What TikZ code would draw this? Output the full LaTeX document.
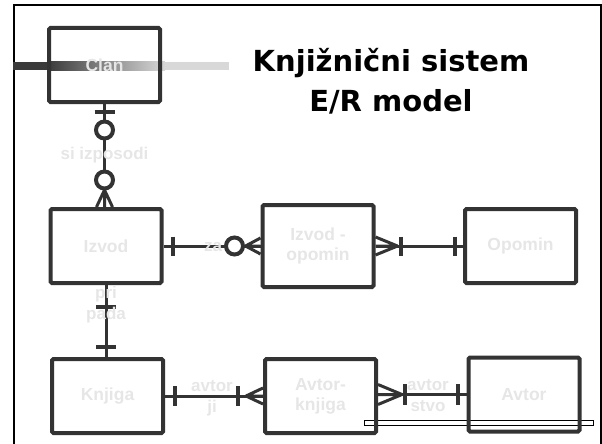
\documentclass[tikz,border=0pt]{standalone}
\usepackage{fontspec}
\setmainfont{Liberation Sans}
\newfontfamily\titlefont{DejaVu Sans}
\usetikzlibrary{calc}
\definecolor{dk}{HTML}{333333}
\definecolor{lt}{HTML}{E6E6E6}
\definecolor{barl}{HTML}{D8D8D8}
\definecolor{bard}{HTML}{3A3A3A}
\begin{document}
\begin{tikzpicture}[x=1pt,y=-1pt,
  ent/.style={draw=dk, line width=4pt, rounded corners=1.5pt, minimum width=111pt,
    minimum height=74pt, inner sep=0pt, font=\fontsize{17.5}{20}\selectfont\bfseries,
    text=lt, align=center},
  conn/.style={draw=dk, line width=3pt},
  bar/.style={draw=dk, line width=4pt},
  ring/.style={draw=dk, line width=4pt, fill=white},
  foot/.style={draw=dk, line width=3pt},
  lbl/.style={font=\fontsize{17}{21}\selectfont\bfseries, text=lt, align=center, inner sep=0pt},
  frame/.style={draw=black, line width=2pt}
]
\useasboundingbox (0,0) rectangle (602,444);
% slide frame
\draw[frame] (13.5,444) -- (13.5,5.5) -- (600.5,5.5) -- (600.5,444);
% decorative bar behind Clan
\fill[bard] (13,62) rectangle (47,70);
\shade[left color=bard, right color=barl] (47,62) rectangle (165,70);
\fill[barl] (165,62) rectangle (229,70);
% thin rectangle near the bottom
\draw[black, line width=0.8pt, fill=white] (364,420) rectangle (593,425);

% title
\node[font=\titlefont\bfseries\fontsize{29}{40}\selectfont, align=center, inner sep=0pt, anchor=north]
  (title) at (391,48) {Knjižnični sistem\\E/R model};

% entities
\node[ent] (clan) at (104.5,65) {Clan};
\node[ent] (izvod) at (106,246) {Izvod};
\node[ent, minimum height=82pt] (io) at (318,246) {Izvod -\\opomin};
\node[ent] (opomin) at (520.5,246) {Opomin};
\node[ent] (knjiga) at (107.5,396) {Knjiga};
\node[ent] (ak) at (320.5,396) {Avtor-\\knjiga};
\node[ent] (avtor) at (524,394.5) {Avtor};

% Clan -- Izvod (si izposodi)
\draw[conn] (clan.south) -- (clan.south |- izvod.north);
\draw[bar] ($(clan.south)+(-10,8)$) -- ($(clan.south)+(10,8)$);
\draw[ring] ($(clan.south)+(0,26)$) circle[radius=8.5];
\coordinate (f1) at ($(clan.south |- izvod.north)+(0,-17)$);
\draw[foot] (f1) -- ++(-8,17) (f1) -- ++(0,17) (f1) -- ++(8,17);
\draw[ring] ($(clan.south |- izvod.north)+(0,-27)$) circle[radius=8.5];
\node[lbl] (l1) at ($(clan.south)!0.5!(clan.south |- izvod.north)$) {si izposodi};

% Izvod -- Izvod-opomin (za)
\draw[conn] (izvod.east) -- (io.west);
\draw[bar] ($(izvod.east)+(9,-9.5)$) -- ($(izvod.east)+(9,9.5)$);
\coordinate (f2) at ($(io.west)+(-15,0)$);
\draw[foot] (f2) -- ++(15,-8) (f2) -- ++(15,0) (f2) -- ++(15,8);
\draw[ring] ($(io.west)+(-26,0)$) circle[radius=8.5];
\node[lbl] (l2) at (213,247) {za};

% Izvod-opomin -- Opomin
\draw[conn] (io.east) -- (opomin.west);
\coordinate (f3) at ($(io.east)+(22,0)$);
\draw[foot] (f3) -- ++(-22,-9) (f3) -- ++(-22,0) (f3) -- ++(-22,9);
\draw[bar] ($(io.east)+(25,-9.5)$) -- ($(io.east)+(25,9.5)$);
\draw[bar] ($(opomin.west)+(-8,-9.5)$) -- ($(opomin.west)+(-8,9.5)$);

% Izvod -- Knjiga (pripada)
\draw[conn] (izvod.south) -- (izvod.south |- knjiga.north);
\draw[bar] ($(izvod.south)+(-10,22)$) -- ($(izvod.south)+(10,22)$);
\draw[bar] ($(izvod.south |- knjiga.north)+(-10,-10)$) -- ($(izvod.south |- knjiga.north)+(10,-10)$);
\node[lbl] (l4) at (106,305) {pri\\pada};

% Knjiga -- Avtor-knjiga (avtorji)
\draw[conn] (knjiga.east) -- (ak.west);
\draw[bar] ($(knjiga.east)+(10,-10)$) -- ($(knjiga.east)+(10,10)$);
\draw[bar] ($(ak.west)+(-25,-10)$) -- ($(ak.west)+(-25,10)$);
\coordinate (f5) at ($(ak.west)+(-17,0)$);
\draw[foot] (f5) -- ++(17,-8) (f5) -- ++(17,0) (f5) -- ++(17,8);
\node[lbl] (l5) at (212,398) {avtor\\ji};

% Avtor-knjiga -- Avtor (avtorstvo)
\draw[conn] (ak.east |- avtor.west) -- (avtor.west);
\coordinate (f6) at ($(ak.east |- avtor.west)+(24,0)$);
\draw[foot] (f6) -- ++(-24,-10) (f6) -- ++(-24,0) (f6) -- ++(-24,10);
\draw[bar] ($(ak.east |- avtor.west)+(27,-10.5)$) -- ($(ak.east |- avtor.west)+(27,10.5)$);
\draw[bar] ($(avtor.west)+(-9,-10.5)$) -- ($(avtor.west)+(-9,10.5)$);
\node[lbl] (l6) at (428,396) {avtor\\stvo};
\end{tikzpicture}
\end{document}
